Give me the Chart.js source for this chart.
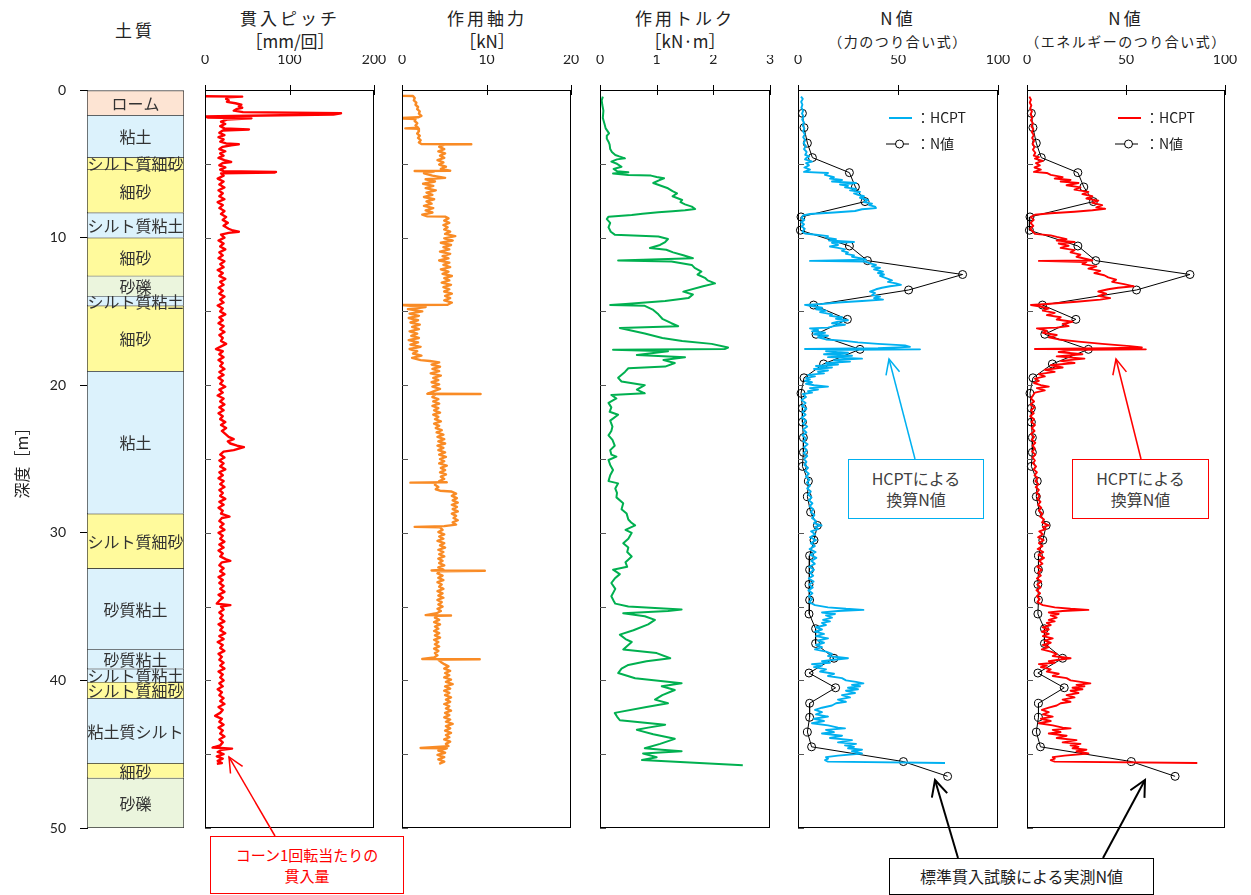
<!DOCTYPE html>
<html lang="ja">
<head>
<meta charset="UTF-8" />
<title>HCPT 測定結果</title>
<script src="https://cdn.jsdelivr.net/npm/chart.js"></script>
<style>
  body { margin: 0; width: 1251px; height: 895px; background: #fff; position: relative; overflow: hidden;
         font-family: "Noto Sans CJK JP", sans-serif; color: #222; }
  canvas { position: absolute; top: 0; }
  .hd { position: absolute; width: 220px; text-align: center; line-height: 20px; font-size: 17px; letter-spacing: 3px; white-space: nowrap; }
  .unit { letter-spacing: 0; }
  .sub { font-size: 14px; letter-spacing: 1.5px; }
  .note { position: absolute; box-sizing: border-box; text-align: center; font-size: 16px; line-height: 21px; background: #fff; }
  svg.ann { position: absolute; left: 0; top: 0; pointer-events: none; }
</style>
</head>
<body>
  <div class="hd" style="left:25px;top:20px">土質</div>
  <div class="hd" style="left:180px;top:8px">貫入ピッチ</div>
  <div class="hd unit" style="left:180px;top:31px">［mm/回］</div>
  <div class="hd" style="left:377px;top:8px">作用軸力</div>
  <div class="hd unit" style="left:377px;top:31px">［kN］</div>
  <div class="hd" style="left:575px;top:8px">作用トルク</div>
  <div class="hd unit" style="left:575px;top:31px">［kN·m］</div>
  <div class="hd" style="left:788px;top:8px">N値</div>
  <div class="hd sub" style="left:788px;top:31px">（力のつり合い式）</div>
  <div class="hd" style="left:1016px;top:8px">N値</div>
  <div class="hd sub" style="left:1016px;top:31px">（エネルギーのつり合い式）</div>

  <canvas id="soil" width="200" height="840" style="left:0px"></canvas>
  <canvas id="pitch" width="209" height="840" style="left:185px"></canvas>
  <canvas id="axial" width="209" height="840" style="left:382px"></canvas>
  <canvas id="torque" width="210" height="840" style="left:580px"></canvas>
  <canvas id="nForce" width="240" height="840" style="left:778px"></canvas>
  <canvas id="nEnergy" width="238" height="840" style="left:1007px"></canvas>

  <svg class="ann" width="1251" height="895">
    <defs>
      <marker id="ahBlue" markerUnits="userSpaceOnUse" markerWidth="18" markerHeight="16" refX="16" refY="8" orient="auto">
        <path d="M1,1 L16,8 L1,15" fill="none" stroke="#00b0f0" stroke-width="1.5"/>
      </marker>
      <marker id="ahRed" markerUnits="userSpaceOnUse" markerWidth="18" markerHeight="16" refX="16" refY="8" orient="auto">
        <path d="M1,1 L16,8 L1,15" fill="none" stroke="#ff0000" stroke-width="1.5"/>
      </marker>
      <marker id="ahBlack" markerUnits="userSpaceOnUse" markerWidth="20" markerHeight="18" refX="17" refY="9" orient="auto">
        <path d="M1,1 L17,9 L1,17" fill="none" stroke="#000" stroke-width="2"/>
      </marker>
    </defs>
    <line x1="915" y1="459" x2="889" y2="359" stroke="#00b0f0" stroke-width="1.5" marker-end="url(#ahBlue)"/>
    <line x1="1141" y1="459" x2="1116" y2="359" stroke="#ff0000" stroke-width="1.5" marker-end="url(#ahRed)"/>
    <line x1="958" y1="858" x2="935" y2="780" stroke="#000" stroke-width="2" marker-end="url(#ahBlack)"/>
    <line x1="1103" y1="858" x2="1145" y2="780" stroke="#000" stroke-width="2" marker-end="url(#ahBlack)"/>
    <line x1="275" y1="836" x2="229" y2="757" stroke="#ff0000" stroke-width="1.5" marker-end="url(#ahRed)"/>
  </svg>

  <div class="note" style="left:848px;top:459px;width:136px;height:60px;border:1.5px solid #00b0f0;color:#404040;padding-top:8px">HCPTによる<br>換算N値</div>
  <div class="note" style="left:1072px;top:459px;width:137px;height:60px;border:1.5px solid #ff0000;color:#404040;padding-top:8px">HCPTによる<br>換算N値</div>
  <div class="note" style="left:889px;top:858px;width:265px;height:37px;border:1.5px solid #000;color:#222;padding-top:7px">標準貫入試験による実測N値</div>
  <div class="note" style="left:210px;top:836px;width:194px;height:58px;border:1px solid #ff0000;color:#ff0000;font-size:15px;padding-top:7px">コーン1回転当たりの<br>貫入量</div>

<script>
  // ---- 土質柱状図 ----
  const soilName = ['ローム','粘土','シルト質細砂','細砂','シルト質粘土','細砂','砂礫','シルト質粘土','細砂','粘土',
                    'シルト質細砂','砂質粘土','砂質粘土','シルト質粘土','シルト質細砂','粘土質シルト','細砂','砂礫'];
  const soilTop =    [0, 1.7, 4.56, 5.38, 8.3, 10.0, 12.58, 13.95, 14.6, 19.04, 28.7, 32.4, 37.9, 39.2, 40.1, 41.2, 45.6, 46.6];
  const soilBottom = [1.7, 4.56, 5.38, 8.3, 10.0, 12.58, 13.95, 14.6, 19.04, 28.7, 32.4, 37.9, 39.2, 40.1, 41.2, 45.6, 46.6, 50];

  // ---- 貫入ピッチ [mm/回] : [depth, value] ----
  const pitch = [
    [0.42,0],[0.45,44],[0.5,27],[0.6,25],[0.7,28],[0.8,26],[0.9,36],[1.0,43],[1.1,40],[1.2,44],[1.3,37],[1.4,34],[1.5,45],[1.58,161],[1.66,152],[1.74,50],[1.8,0],[1.86,3],[1.92,55],[2.0,26],
    [2.15,19],[2.3,24],[2.45,18],[2.6,23],[2.68,52],[2.74,21],[2.9,17],[3.05,23],[3.2,16],[3.35,22],[3.5,18],[3.62,25],[3.68,40],[3.74,31],[3.85,21],[4.0,17],[4.15,24],[4.3,18],[4.45,22],[4.6,16],
    [4.75,23],[4.88,31],[4.95,21],[5.1,17],[5.25,24],[5.4,18],[5.5,22],[5.55,84],[5.6,82],[5.65,19],[5.8,22],[6.0,15],[6.2,22],[6.4,17],[6.6,23],[6.8,16],[7.0,21],[7.2,17],[7.4,23],[7.6,15],
    [7.8,21],[8.0,17],[8.2,23],[8.4,19],[8.6,25],[8.8,21],[9.0,27],[9.2,22],[9.4,28],[9.52,33],[9.6,40],[9.68,28],[9.8,19],[10.0,23],[10.2,16],[10.4,22],[10.6,18],[10.8,24],[11.0,17],[11.2,21],
    [11.4,16],[11.6,23],[11.8,18],[12.0,22],[12.2,15],[12.4,21],[12.6,17],[12.8,24],[13.0,18],[13.2,22],[13.4,16],[13.6,21],[13.8,17],[14.0,23],[14.2,18],[14.4,22],[14.6,15],[14.8,21],[15.0,18],[15.2,24],
    [15.4,17],[15.6,21],[15.8,16],[16.0,22],[16.2,18],[16.4,23],[16.6,17],[16.8,21],[17.0,19],[17.2,25],[17.4,18],[17.55,13],[17.7,21],[17.9,17],[18.1,22],[18.3,16],[18.5,21],[18.7,18],[18.9,23],[19.1,17],
    [19.3,22],[19.5,16],[19.7,21],[19.9,18],[20.1,24],[20.3,17],[20.5,21],[20.7,15],[20.9,22],[21.1,18],[21.3,23],[21.5,17],[21.7,22],[21.9,16],[22.1,21],[22.3,18],[22.5,24],[22.7,19],[22.9,25],[23.1,20],
    [23.3,24],[23.5,28],[23.65,34],[23.8,27],[23.95,30],[24.1,38],[24.2,46],[24.3,40],[24.4,34],[24.5,22],[24.7,18],[24.9,23],[25.1,17],[25.3,22],[25.5,18],[25.7,24],[25.9,17],[26.1,21],[26.3,16],[26.5,22],
    [26.7,18],[26.9,23],[27.1,17],[27.3,21],[27.5,18],[27.7,24],[27.9,17],[28.1,22],[28.3,16],[28.5,21],[28.7,19],[28.9,29],[29.0,20],[29.2,17],[29.4,22],[29.6,18],[29.8,23],[30.0,16],[30.2,21],[30.4,18],
    [30.6,23],[30.8,17],[31.0,22],[31.2,16],[31.4,21],[31.6,18],[31.8,25],[31.9,30],[32.0,20],[32.2,17],[32.4,22],[32.6,18],[32.8,23],[33.0,16],[33.2,21],[33.4,17],[33.6,22],[33.8,18],[34.0,23],[34.2,16],
    [34.4,21],[34.6,17],[34.8,14],[34.9,30],[35.0,19],[35.2,22],[35.4,17],[35.6,21],[35.8,18],[36.0,23],[36.2,16],[36.4,21],[36.6,18],[36.8,24],[37.0,17],[37.2,22],[37.4,15],[37.6,21],[37.8,18],[38.0,23],
    [38.2,16],[38.4,20],[38.6,17],[38.8,22],[39.0,18],[39.2,23],[39.4,16],[39.6,21],[39.8,18],[40.0,22],[40.2,17],[40.4,21],[40.6,15],[40.8,20],[41.0,17],[41.2,22],[41.4,18],[41.6,23],[41.8,16],[42.0,21],
    [42.2,18],[42.4,12],[42.6,20],[42.8,17],[43.0,22],[43.2,16],[43.4,21],[43.6,18],[43.8,23],[44.0,17],[44.2,21],[44.4,18],[44.55,9],[44.62,32],[44.7,20],[44.85,15],[45.0,22],[45.15,14],[45.3,21],[45.45,15],
    [45.6,20],[45.65,14]
  ];

  // ---- 作用軸力 [kN] ----
  const axial = [
    [0.4,0],[0.41,1.3],[0.55,1.5],[0.7,1.4],[0.85,1.7],[1.0,1.6],[1.15,1.9],[1.3,1.8],[1.45,2.1],[1.6,2.0],[1.75,2.3],[1.85,1.9],[1.9,0],[1.93,0.2],[1.96,1.6],[2.1,1.5],[2.25,1.8],[2.4,1.6],[2.55,1.9],[2.6,0.4],
    [2.63,1.9],[2.8,2.0],[2.95,1.8],[3.1,2.1],[3.25,1.9],[3.4,2.2],[3.55,2.0],[3.66,2.3],[3.68,8.2],[3.7,5.0],[3.85,4.4],[4.0,5.0],[4.15,4.3],[4.3,5.1],[4.45,4.5],[4.6,5.0],[4.75,4.2],[4.9,4.9],[5.05,4.4],[5.2,5.2],
    [5.35,4.6],[5.47,5.7],[5.49,1.5],[5.52,3.8],[5.65,2.6],[5.8,3.6],[5.95,5.1],[6.05,2.8],[6.2,3.9],[6.35,2.5],[6.5,3.7],[6.65,2.8],[6.8,4.0],[6.95,2.9],[7.1,3.6],[7.25,2.6],[7.4,3.8],[7.55,2.9],[7.7,3.5],[7.85,2.6],
    [8.0,3.7],[8.15,2.8],[8.3,3.6],[8.45,2.4],[8.56,3.0],[8.58,5.1],[8.7,5.5],[8.85,5.0],[9.0,5.6],[9.15,4.9],[9.3,5.4],[9.45,5.0],[9.6,5.7],[9.75,5.1],[9.9,6.3],[10.05,5.0],[10.2,6.0],[10.35,4.6],[10.5,5.8],[10.65,4.9],
    [10.8,5.6],[10.95,4.5],[11.1,5.7],[11.25,4.8],[11.4,5.5],[11.55,4.4],[11.7,5.6],[11.85,4.9],[12.0,5.7],[12.15,4.6],[12.3,5.5],[12.45,4.8],[12.6,5.9],[12.75,5.0],[12.9,5.6],[13.05,4.7],[13.2,5.8],[13.35,4.9],[13.5,5.6],[13.65,5.0],
    [13.8,5.9],[13.95,5.1],[14.1,5.7],[14.25,5.0],[14.4,5.9],[14.55,5.4],[14.57,0],[14.6,0.6],[14.7,2.8],[14.85,0.7],[15.0,2.4],[15.15,0.9],[15.3,2.0],[15.45,0.8],[15.6,1.9],[15.75,1.0],[15.9,2.1],[16.05,1.2],[16.2,2.0],[16.35,0.9],
    [16.5,1.8],[16.65,1.1],[16.8,2.0],[16.95,0.8],[17.1,1.9],[17.25,1.0],[17.4,2.2],[17.55,0.9],[17.7,1.8],[17.85,1.3],[18.0,2.3],[18.15,1.2],[18.3,2.2],[18.36,3.3],[18.45,4.4],[18.6,3.5],[18.75,4.5],[18.9,3.6],[19.05,4.4],[19.2,3.4],
    [19.35,4.6],[19.5,3.7],[19.65,4.3],[19.8,3.5],[19.95,4.4],[20.1,3.6],[20.25,4.5],[20.4,3.8],[20.58,3.0],[20.6,9.3],[20.62,4.0],[20.8,3.6],[20.95,4.3],[21.1,3.7],[21.25,4.4],[21.4,3.6],[21.55,4.3],[21.7,3.8],[21.85,4.5],[22.0,3.7],
    [22.15,4.3],[22.3,3.9],[22.45,4.6],[22.6,3.8],[22.75,4.4],[22.9,4.0],[23.05,4.7],[23.2,4.1],[23.35,4.9],[23.5,4.2],[23.65,5.0],[23.8,4.3],[23.95,5.1],[24.1,4.2],[24.25,4.9],[24.4,4.3],[24.55,5.1],[24.7,4.4],[24.85,5.2],[25.0,4.5],
    [25.15,5.0],[25.3,4.4],[25.45,5.3],[25.6,4.6],[25.75,5.1],[25.9,4.5],[26.05,5.2],[26.2,4.6],[26.35,5.0],[26.5,4.4],[26.58,5.3],[26.6,1.0],[26.62,4.0],[26.75,3.9],[26.9,4.3],[27.05,4.0],[27.15,4.5],[27.2,5.8],[27.35,6.4],[27.5,5.9],
    [27.65,6.5],[27.8,6.0],[27.95,6.6],[28.1,5.9],[28.25,6.5],[28.4,6.0],[28.55,6.6],[28.7,5.9],[28.85,6.4],[29.0,6.1],[29.15,6.6],[29.3,6.0],[29.45,6.4],[29.55,5.0],[29.6,1.5],[29.63,4.5],[29.8,4.8],[29.95,4.3],[30.1,5.0],[30.25,4.4],
    [30.4,4.9],[30.55,4.2],[30.7,5.0],[30.85,4.5],[31.0,5.1],[31.15,4.3],[31.3,4.9],[31.45,4.4],[31.6,5.0],[31.75,4.3],[31.9,4.8],[32.05,4.4],[32.2,5.0],[32.35,4.3],[32.5,4.9],[32.55,3.5],[32.57,9.8],[32.6,4.5],[32.75,4.2],[32.9,4.8],
    [33.05,4.3],[33.2,4.9],[33.35,4.2],[33.5,4.7],[33.65,4.4],[33.8,4.9],[33.95,4.2],[34.1,4.8],[34.25,4.3],[34.4,4.9],[34.55,4.2],[34.7,4.7],[34.85,4.3],[35.0,4.8],[35.15,4.2],[35.3,4.6],[35.45,4.1],[35.58,2.8],[35.6,5.8],[35.62,4.2],
    [35.75,3.9],[35.9,4.4],[36.05,3.8],[36.2,4.5],[36.35,3.9],[36.5,4.3],[36.65,3.8],[36.8,4.4],[36.95,3.9],[37.1,4.5],[37.25,3.8],[37.4,4.3],[37.55,3.9],[37.7,4.4],[37.85,3.8],[38.0,4.3],[38.15,3.9],[38.3,4.2],[38.45,3.8],[38.55,2.4],
    [38.57,9.2],[38.6,4.3],[38.75,4.6],[38.9,5.0],[39.05,5.5],[39.2,5.0],[39.35,5.7],[39.5,5.1],[39.65,5.6],[39.8,5.0],[39.95,5.8],[40.1,5.2],[40.25,6.0],[40.4,5.1],[40.55,5.7],[40.7,5.0],[40.85,5.6],[41.0,5.1],[41.15,5.8],[41.3,5.2],
    [41.45,5.7],[41.6,5.0],[41.75,5.6],[41.9,5.2],[42.05,5.8],[42.2,5.1],[42.35,5.6],[42.5,5.0],[42.65,5.7],[42.8,5.2],[42.95,6.0],[43.1,5.2],[43.25,5.7],[43.4,5.1],[43.55,5.8],[43.7,5.2],[43.85,5.6],[44.0,5.0],[44.15,5.7],[44.3,5.2],
    [44.45,5.5],[44.58,2.2],[44.6,5.3],[44.75,4.3],[44.9,5.1],[45.05,4.2],[45.2,5.0],[45.35,4.3],[45.5,5.0],[45.65,4.4]
  ];

  // ---- 作用トルク [kN·m] ----
  const torque = [
    [0.45,0.05],[0.7,0.03],[1.0,0.04],[1.4,0.06],[1.9,0.05],[2.3,0.08],[2.6,0.1],[2.94,0.16],[3.1,0.12],[3.3,0.12],[3.5,0.15],[3.7,0.17],[4.0,0.18],[4.2,0.21],[4.4,0.27],[4.5,0.34],[4.63,0.44],[4.7,0.3],[4.85,0.2],[5.0,0.3],
    [5.2,0.38],[5.35,0.24],[5.5,0.3],[5.58,0.5],[5.65,0.23],[5.76,0.5],[5.8,0.9],[5.9,1.0],[5.98,1.13],[6.1,1.05],[6.3,0.94],[6.45,1.05],[6.66,1.2],[6.85,1.28],[7.0,1.36],[7.2,1.28],[7.45,1.45],[7.6,1.42],[7.75,1.5],[7.9,1.62],
    [8.06,1.68],[8.15,1.5],[8.22,1.28],[8.29,1.03],[8.38,0.75],[8.47,0.56],[8.58,0.15],[8.75,0.12],[9.0,0.18],[9.3,0.15],[9.6,0.19],[9.8,0.26],[9.93,1.03],[10.1,1.2],[10.3,1.15],[10.5,1.06],[10.7,0.88],[10.82,1.17],[11.0,1.29],[11.2,1.47],
    [11.4,1.64],[11.55,0.32],[11.62,1.26],[11.85,1.62],[12.05,1.67],[12.3,1.79],[12.5,1.72],[12.75,1.86],[12.9,1.9],[13.1,2.03],[13.3,1.82],[13.66,1.47],[13.85,1.64],[14.1,1.56],[14.3,1.15],[14.5,0.45],[14.56,0.18],[14.62,0.79],[14.9,0.94],[15.2,1.03],
    [15.5,1.1],[15.8,1.26],[16.0,1.38],[16.12,0.35],[16.3,0.55],[16.5,0.79],[16.8,1.1],[17.0,1.45],[17.2,1.97],[17.45,2.26],[17.55,2.2],[17.6,0.23],[17.7,1.2],[17.95,0.65],[18.1,1.5],[18.3,1.12],[18.5,1.32],[18.74,1.15],[18.85,0.5],[19.1,0.44],
    [19.5,0.32],[19.75,0.38],[20.0,0.79],[20.3,0.65],[20.55,0.79],[20.66,0.2],[20.9,0.29],[21.2,0.15],[21.5,0.2],[21.8,0.17],[22.0,0.32],[22.4,0.18],[22.8,0.22],[23.1,0.2],[23.4,0.15],[23.7,0.22],[24.1,0.26],[24.4,0.18],[24.7,0.2],[24.84,0.29],
    [25.07,0.15],[25.4,0.18],[25.74,0.23],[26.1,0.18],[26.5,0.15],[26.65,0.32],[27.0,0.27],[27.3,0.3],[27.6,0.29],[28.0,0.41],[28.4,0.38],[28.7,0.47],[29.1,0.5],[29.3,0.55],[29.5,0.62],[29.8,0.45],[30.0,0.56],[30.4,0.5],[30.7,0.41],[31.0,0.5],
    [31.3,0.48],[31.6,0.56],[32.0,0.45],[32.3,0.48],[32.5,0.23],[32.8,0.35],[33.1,0.26],[33.4,0.2],[33.8,0.27],[34.3,0.2],[34.6,0.24],[34.8,0.27],[35.0,0.5],[35.2,1.44],[35.3,1.2],[35.45,0.41],[35.65,0.79],[35.9,0.97],[36.2,0.85],[36.6,0.59],
    [36.9,0.35],[37.2,0.45],[37.4,0.56],[37.9,0.41],[38.15,1.0],[38.5,1.24],[38.7,0.82],[38.95,0.5],[39.2,0.38],[39.5,0.32],[39.85,0.62],[40.2,1.44],[40.4,1.09],[40.65,1.32],[41.0,1.1],[41.3,0.97],[41.55,1.2],[41.8,0.82],[42.2,0.26],[42.45,0.3],
    [42.7,0.35],[43.0,1.15],[43.2,0.85],[43.35,0.65],[43.65,0.94],[43.96,1.32],[44.3,1.06],[44.6,0.79],[44.7,1.09],[44.8,1.44],[44.95,0.76],[45.2,1.0],[45.4,0.74],[45.55,1.5],[45.75,2.52]
  ];

  // ---- HCPT 換算N値（力のつり合い式）----
  const hcptForce = [
    [0.45,1.5],[0.6,2.4],[0.8,1.6],[1.0,2.2],[1.2,1.7],[1.4,2.6],[1.6,2.0],[1.8,2.8],[2.0,2.1],[2.2,3.0],[2.4,2.3],[2.6,3.2],[2.8,2.5],[3.0,3.4],[3.2,2.6],[3.4,3.6],[3.6,2.8],[3.8,4.0],[4.0,3.0],[4.2,4.3],
    [4.4,3.6],[4.5,5.6],[4.6,4.2],[4.7,3.5],[4.85,7.0],[4.95,4.0],[5.1,5.5],[5.25,3.2],[5.4,6.0],[5.55,3.0],[5.62,15],[5.75,13.5],[5.9,18],[6.0,16],[6.1,22],[6.2,17],[6.3,29],[6.4,21],[6.5,25],[6.6,23.5],
    [6.7,29],[6.8,26],[6.9,31],[7.0,28],[7.1,30],[7.2,33],[7.3,31],[7.45,35],[7.6,33],[7.7,37],[7.8,35.5],[7.9,38.5],[8.0,39],[8.08,32],[8.2,28.5],[8.3,18],[8.4,6],[8.5,2.5],[8.65,1.8],[8.8,3.2],
    [8.95,1.6],[9.1,3.0],[9.25,1.8],[9.4,3.4],[9.6,2.2],[9.72,3.5],[9.82,10],[9.9,15],[10.0,14],[10.1,19],[10.2,15.5],[10.3,28],[10.35,17],[10.5,20],[10.6,16],[10.7,20],[10.8,23.5],[10.9,22],[11.0,25],[11.1,24],
    [11.2,28],[11.3,27],[11.4,31],[11.5,34],[11.58,6],[11.62,33.5],[11.75,36],[11.85,39],[11.95,37],[12.05,41],[12.15,38],[12.3,42.5],[12.4,40],[12.5,43],[12.6,41],[12.75,44],[12.9,47],[13.0,45],[13.1,49],[13.2,51.5],
    [13.3,46],[13.4,42],[13.5,39],[13.66,36],[13.75,38.5],[13.9,37],[14.0,41],[14.1,38],[14.2,42.5],[14.3,32],[14.4,20],[14.5,12],[14.56,3.5],[14.65,7.5],[14.75,12],[14.85,9],[14.95,14],[15.05,11],[15.2,17],[15.3,16],
    [15.4,22],[15.5,19],[15.6,25],[15.7,20],[15.8,17],[15.9,23.5],[16.0,18],[16.1,15],[16.15,6],[16.25,10],[16.35,7],[16.45,13.5],[16.55,8],[16.65,15],[16.75,10],[16.9,14],[17.0,23.5],[17.1,30],[17.2,40],[17.3,53.5],
    [17.4,56],[17.5,40],[17.55,3.5],[17.57,61],[17.62,20],[17.7,14],[17.8,25],[17.9,13],[18.0,27],[18.1,15],[18.2,32],[18.3,18],[18.4,26],[18.5,14],[18.6,20],[18.7,9],[18.8,17],[18.9,8],[19.0,15],[19.1,10],
    [19.2,13],[19.3,5],[19.4,8.5],[19.5,4],[19.6,6],[19.7,3.5],[19.8,7],[19.9,4],[20.0,8],[20.1,15],[20.2,6],[20.3,10],[20.4,5],[20.5,7],[20.6,2.5],[20.8,4],[21.0,1.8],[21.2,3.8],[21.4,2.0],[21.6,4.2],
    [21.8,2.2],[22.0,3.8],[22.2,1.8],[22.4,4.0],[22.6,2.4],[22.8,4.6],[23.0,2.6],[23.2,4.2],[23.4,2.2],[23.6,4.0],[23.8,2.6],[24.0,4.8],[24.2,3.0],[24.4,4.4],[24.6,2.8],[24.8,4.6],[25.0,3.0],[25.2,4.2],[25.4,3.2],[25.6,5.0],
    [25.8,3.6],[26.0,5.4],[26.2,4.0],[26.4,5.8],[26.6,4.4],[26.8,6.0],[27.0,4.6],[27.2,6.4],[27.4,5.0],[27.6,6.8],[27.8,5.4],[28.0,7.2],[28.2,5.8],[28.4,7.6],[28.6,6.4],[28.8,8.2],[29.0,7.0],[29.2,9.0],[29.35,8.0],[29.5,11.8],
    [29.6,8.5],[29.75,10],[29.9,6.5],[30.1,8.6],[30.3,6.0],[30.5,9.0],[30.7,6.4],[30.9,8.4],[31.1,5.8],[31.3,8.8],[31.5,6.2],[31.7,9.2],[31.9,6.6],[32.1,8.4],[32.3,5.6],[32.5,8.0],[32.7,6.0],[32.9,7.6],[33.1,5.4],[33.3,7.8],
    [33.5,5.6],[33.7,7.4],[33.9,5.2],[34.1,7.2],[34.3,5.4],[34.5,7.0],[34.7,5.6],[34.9,8.5],[35.05,15],[35.15,24],[35.22,32.7],[35.3,20],[35.4,12],[35.5,18.5],[35.6,14],[35.75,17],[35.9,12.5],[36.0,16],[36.1,12],[36.25,14],
    [36.4,9],[36.55,12],[36.7,8.5],[36.85,13],[37.0,9],[37.15,15],[37.3,10],[37.45,13],[37.6,9],[37.75,12],[37.9,8.5],[38.05,14],[38.2,17],[38.35,15],[38.5,25],[38.6,18],[38.7,12],[38.8,16],[38.9,7],[39.0,12],
    [39.1,8],[39.25,14],[39.4,11],[39.55,18],[39.7,15],[39.85,22],[40.0,24],[40.1,29],[40.2,32.7],[40.3,27],[40.4,31],[40.5,25],[40.6,30],[40.7,24],[40.85,28.5],[41.0,22],[41.15,26],[41.3,20],[41.45,24],[41.55,19],
    [41.7,17],[41.85,12],[42.0,8.5],[42.15,12],[42.3,9],[42.45,15],[42.6,8],[42.75,13],[42.9,7],[43.05,15],[43.2,20],[43.25,23.5],[43.35,14],[43.5,18],[43.6,12],[43.75,22],[43.9,16],[44.05,27],[44.2,20],[44.3,29],
    [44.4,23.5],[44.5,28],[44.6,25],[44.7,32],[44.8,27],[44.95,32],[45.1,20],[45.2,14],[45.3,15],[45.4,13.5],[45.5,15],[45.6,73.5]
  ];

  // ---- HCPT 換算N値（エネルギーのつり合い式）----
  const hcptEnergy = [
    [0.45,1.2],[0.65,2.0],[0.85,1.4],[1.05,2.2],[1.25,1.6],[1.45,2.5],[1.65,1.8],[1.85,2.8],[2.05,2.0],[2.25,3.0],[2.45,2.2],[2.65,3.2],[2.85,2.4],[3.05,3.4],[3.25,2.6],[3.45,3.6],[3.65,2.8],[3.85,3.8],[4.05,3.0],[4.25,4.2],
    [4.45,3.4],[4.55,6.0],[4.65,4.0],[4.8,8.0],[4.95,4.5],[5.1,6.5],[5.25,3.8],[5.4,7.0],[5.55,3.5],[5.62,10],[5.75,12],[5.9,18],[6.0,14],[6.1,22],[6.2,17],[6.3,26],[6.45,20],[6.6,27],[6.75,24],[6.9,31],
    [7.05,28],[7.2,33],[7.35,30],[7.5,36],[7.65,33],[7.8,38],[7.95,35],[8.05,39.5],[8.15,33],[8.25,24],[8.35,12],[8.45,4],[8.6,2.0],[8.8,3.4],[9.0,1.8],[9.2,3.2],[9.4,1.6],[9.6,3.0],[9.75,4],[9.85,12],
    [9.95,15],[10.1,20],[10.2,15],[10.3,24],[10.4,16],[10.55,21],[10.7,17],[10.85,24],[11.0,22],[11.15,27],[11.3,25],[11.45,30],[11.55,33],[11.58,6],[11.65,30],[11.8,28],[11.95,35],[12.1,31],[12.25,37],[12.4,34],
    [12.55,39],[12.7,41],[12.85,45],[13.0,43],[13.15,49],[13.3,54],[13.4,46],[13.5,41],[13.65,36],[13.8,40],[13.95,36],[14.1,42],[14.2,37],[14.35,25],[14.5,10],[14.57,2],[14.65,6],[14.8,11],[14.95,8],[15.1,14],
    [15.25,10],[15.4,17],[15.55,15],[15.7,23],[15.85,18],[16.0,21],[16.1,15],[16.15,5],[16.3,10],[16.45,8],[16.6,15],[16.75,11],[16.9,16],[17.05,26],[17.2,38],[17.35,52],[17.45,58],[17.5,42],[17.55,4],[17.57,60],
    [17.62,22],[17.75,16],[17.9,28],[18.05,15],[18.2,29],[18.35,17],[18.5,24],[18.65,12],[18.8,18],[18.95,9],[19.1,14],[19.25,6],[19.4,9],[19.55,4],[19.7,6],[19.85,3.5],[20.0,7],[20.1,11],[20.2,5],[20.35,9],
    [20.5,4],[20.7,3],[20.9,2.0],[21.1,3.6],[21.3,1.8],[21.5,3.8],[21.7,2.0],[21.9,3.4],[22.1,1.6],[22.3,3.6],[22.5,2.2],[22.7,4.0],[22.9,2.4],[23.1,3.8],[23.3,2.0],[23.5,3.6],[23.7,2.4],[23.9,4.2],[24.1,2.8],[24.3,4.0],
    [24.5,2.6],[24.7,4.2],[24.9,2.8],[25.1,4.0],[25.3,3.0],[25.5,4.6],[25.7,3.4],[25.9,5.0],[26.1,3.8],[26.3,5.4],[26.5,4.2],[26.7,5.8],[26.9,4.4],[27.1,6.0],[27.3,4.8],[27.5,6.4],[27.7,5.2],[27.9,6.8],[28.1,5.6],[28.3,7.2],
    [28.5,6.0],[28.7,7.8],[28.9,6.6],[29.1,8.6],[29.3,7.6],[29.5,11],[29.6,8],[29.75,9.5],[29.9,6.2],[30.1,8.0],[30.3,5.6],[30.5,8.4],[30.7,6.0],[30.9,7.8],[31.1,5.4],[31.3,8.2],[31.5,5.8],[31.7,8.6],[31.9,6.2],[32.1,7.8],
    [32.3,5.2],[32.5,7.4],[32.7,5.6],[32.9,7.0],[33.1,5.0],[33.3,7.2],[33.5,5.2],[33.7,6.8],[33.9,4.8],[34.1,6.6],[34.3,5.0],[34.5,6.4],[34.7,5.2],[34.9,8],[35.05,14],[35.15,22],[35.22,31],[35.3,18],[35.4,11],[35.5,16],
    [35.6,12],[35.75,15],[35.9,11],[36.0,14],[36.1,10],[36.25,12],[36.4,8],[36.55,11],[36.7,7.5],[36.85,11],[37.0,8],[37.15,13],[37.3,9],[37.45,12],[37.6,8],[37.75,11],[37.9,7.5],[38.05,12],[38.2,15],[38.35,13],
    [38.5,22],[38.6,16],[38.7,11],[38.8,14],[38.9,6],[39.0,10],[39.1,7],[39.25,12],[39.4,10],[39.55,16],[39.7,13],[39.85,20],[40.0,22],[40.1,27],[40.2,32],[40.3,25],[40.4,29],[40.5,23],[40.6,28],[40.7,22],
    [40.85,26],[41.0,20],[41.15,24],[41.3,18],[41.45,22],[41.55,17],[41.7,15],[41.85,11],[42.0,7.5],[42.15,11],[42.3,8],[42.45,13],[42.6,7],[42.75,12],[42.9,6],[43.05,13],[43.2,18],[43.25,22],[43.35,13],[43.5,17],
    [43.6,11],[43.75,20],[43.9,15],[44.05,25],[44.2,18],[44.3,27],[44.4,22],[44.5,26],[44.6,23],[44.7,30],[44.8,25],[44.95,31],[45.1,19],[45.2,13],[45.3,14],[45.4,12],[45.5,14],[45.6,86]
  ];

  // ---- 標準貫入試験 実測N値 ----
  const sptDepth = [1.58,2.55,3.6,4.58,5.6,6.57,7.56,8.6,9.5,10.57,11.56,12.5,13.55,14.57,15.54,16.55,17.57,18.56,19.5,20.55,21.56,22.5,23.55,
                    24.55,25.5,26.5,27.55,28.6,29.5,30.5,31.55,32.5,33.5,34.55,35.5,36.5,37.5,38.5,39.5,40.5,41.55,42.5,43.5,44.5,45.5,46.5];
  const sptN = [2.2,3.0,4.7,7.2,25.7,28.7,33.5,1.5,1.2,25.7,34.7,82.3,55.3,7.8,24.7,9.0,31,12.8,3.0,1.5,2.2,2.2,2.7,
                2.7,2.2,5.2,4.7,6.3,9.7,8,5.8,5.8,5.5,5.8,5.5,8.8,8.8,18,5.5,18.8,5.8,5.8,4.7,6.8,52.7,74.8];

  const DEPTH_MAX = 50;
  const tickFont = { family: 'Lato', size: 14 };
  const jpFont = '"Noto Sans CJK JP", sans-serif';
  const soilColor = { loam: '#fde4d3', clay: '#dcf2fc', sand: '#fffa9c', gravel: '#ebf5dd' };

  function colorFor(name) {
    if (name === 'ローム') return soilColor.loam;
    if (name.includes('礫')) return soilColor.gravel;
    if (name.endsWith('砂')) return soilColor.sand;
    return soilColor.clay;
  }
  function toPoints(rows) { return rows.map(([d, v]) => ({ x: v, y: d })); }
  function zeroPad(s) { s.paddingLeft = 0; s.paddingRight = 0; s.paddingTop = 0; s.paddingBottom = 0; }

  // frame + tick marks (top ticks cross the frame, depth ticks point inward)
  const framePlugin = {
    id: 'frame',
    afterDraw(chart) {
      const { ctx, chartArea: a, scales: { x, y } } = chart;
      ctx.save();
      ctx.strokeStyle = '#000';
      ctx.lineWidth = 1;
      ctx.strokeRect(a.left + 0.5, a.top + 0.5, a.width - 1, a.height - 1);
      ctx.beginPath();
      x.ticks.forEach(t => {
        const px = Math.round(x.getPixelForValue(t.value)) + 0.5;
        ctx.moveTo(px, a.top - 5); ctx.lineTo(px, a.top + 5);
      });
      ctx.stroke();
      ctx.strokeStyle = '#555';
      ctx.beginPath();
      for (let d = 5; d <= DEPTH_MAX; d += 5) {
        const py = Math.round(y.getPixelForValue(d)) + 0.5;
        ctx.moveTo(a.left, py); ctx.lineTo(a.left + 6, py);
      }
      ctx.stroke();
      ctx.restore();
    }
  };

  const legendPlugin = {
    id: 'nLegend',
    afterDatasetsDraw(chart) {
      const { ctx, chartArea: a } = chart;
      const [hcpt, spt] = chart.data.datasets;
      const x0 = a.left + 91, x1 = a.left + 114, tx = a.left + 118;
      const y1 = a.top + 28, y2 = a.top + 54;
      ctx.save();
      ctx.strokeStyle = hcpt.borderColor; ctx.lineWidth = 2;
      ctx.beginPath(); ctx.moveTo(x0, y1); ctx.lineTo(x1, y1); ctx.stroke();
      ctx.strokeStyle = spt.borderColor; ctx.lineWidth = 1;
      ctx.beginPath(); ctx.moveTo(x0 - 3, y2); ctx.lineTo(x1 - 3, y2); ctx.stroke();
      ctx.beginPath(); ctx.arc((x0 + x1) / 2 - 1, y2, 4, 0, Math.PI * 2);
      ctx.fillStyle = '#fff'; ctx.fill(); ctx.stroke();
      ctx.fillStyle = '#222'; ctx.font = '14px ' + jpFont;
      ctx.textBaseline = 'middle'; ctx.textAlign = 'left';
      ctx.fillText('：' + hcpt.label, tx, y1);
      ctx.fillText('：' + spt.label, tx, y2);
      ctx.restore();
    }
  };

  const soilLabelPlugin = {
    id: 'soilLabels',
    afterDatasetsDraw(chart) {
      const ctx = chart.ctx;
      ctx.save();
      ctx.font = '16px ' + jpFont;
      ctx.fillStyle = '#333';
      ctx.textAlign = 'center';
      ctx.textBaseline = 'middle';
      chart.data.datasets.forEach((ds, i) => {
        const bar = chart.getDatasetMeta(i).data[0];
        ctx.fillText(ds.label, bar.x, (bar.y + bar.base) / 2 + 1, chart.chartArea.width - 1);
      });
      ctx.restore();
    }
  };

  Chart.defaults.font.family = 'Lato';
  Chart.defaults.color = '#222';

  // soil column
  new Chart(document.getElementById('soil'), {
    type: 'bar',
    data: {
      labels: ['土質'],
      datasets: soilName.map((n, i) => ({
        label: n,
        data: [[soilTop[i], soilBottom[i]]],
        backgroundColor: colorFor(n),
        borderColor: '#333',
        borderWidth: i === soilName.length - 1 ? 1 : { top: 1, left: 1, right: 1, bottom: 0 },
        borderSkipped: false,
        grouped: false,
        barPercentage: 1,
        categoryPercentage: 1
      }))
    },
    options: {
      responsive: false,
      animation: false,
      layout: { padding: { left: 0, right: 16, top: 90, bottom: 12 } },
      plugins: { legend: { display: false }, tooltip: { enabled: false } },
      scales: {
        x: { display: false },
        y: {
          reverse: true, min: 0, max: DEPTH_MAX,
          ticks: { stepSize: 10, font: tickFont, padding: 14 },
          grid: { drawOnChartArea: false, tickLength: 7, color: '#000' },
          border: { color: '#000' },
          title: { display: true, text: '深度［m］', font: { family: jpFont, size: 16 }, padding: { top: 12 } },
          afterFit: s => { s.width = 87; zeroPad(s); }
        }
      }
    },
    plugins: [soilLabelPlugin]
  });

  function depthChart(id, xMax, xStep, datasets, extra) {
    return new Chart(document.getElementById(id), {
      type: 'line',
      data: { datasets },
      options: {
        responsive: false,
        animation: false,
        indexAxis: 'y',
        layout: { padding: { left: 20, right: 20, top: 55, bottom: 12 } },
        plugins: { legend: { display: false }, tooltip: { enabled: false } },
        elements: { point: { radius: 0 }, line: { tension: 0, borderJoinStyle: 'round' } },
        scales: {
          x: {
            type: 'linear', position: 'top', min: 0, max: xMax,
            ticks: { stepSize: xStep, font: tickFont, padding: 14 },
            grid: { display: false },
            border: { display: false },
            afterFit: s => { s.height = 35; zeroPad(s); }
          },
          y: { type: 'linear', reverse: true, min: 0, max: DEPTH_MAX, display: false }
        }
      },
      plugins: [framePlugin].concat(extra || [])
    });
  }

  const sptPoints = sptDepth.map((d, i) => ({ x: sptN[i], y: d }));
  function sptDataset() {
    return {
      label: 'N値', data: sptPoints, borderColor: '#000', borderWidth: 1,
      pointRadius: 4, pointBorderColor: '#000', pointBorderWidth: 1,
      pointBackgroundColor: 'rgba(255,255,255,0)', clip: 8
    };
  }

  depthChart('pitch', 200, 100, [
    { label: '貫入ピッチ', data: toPoints(pitch), borderColor: '#ff0000', borderWidth: 2.4 }
  ]);
  depthChart('axial', 20, 10, [
    { label: '作用軸力', data: toPoints(axial), borderColor: '#f98b25', borderWidth: 2.4 }
  ]);
  depthChart('torque', 3, 1, [
    { label: '作用トルク', data: toPoints(torque), borderColor: '#00b050', borderWidth: 2 }
  ]);
  depthChart('nForce', 100, 50, [
    { label: 'HCPT', data: toPoints(hcptForce), borderColor: '#00b0f0', borderWidth: 1.9 },
    sptDataset()
  ], [legendPlugin]);
  depthChart('nEnergy', 100, 50, [
    { label: 'HCPT', data: toPoints(hcptEnergy), borderColor: '#ff0000', borderWidth: 1.9 },
    sptDataset()
  ], [legendPlugin]);
</script>
</body>
</html>
